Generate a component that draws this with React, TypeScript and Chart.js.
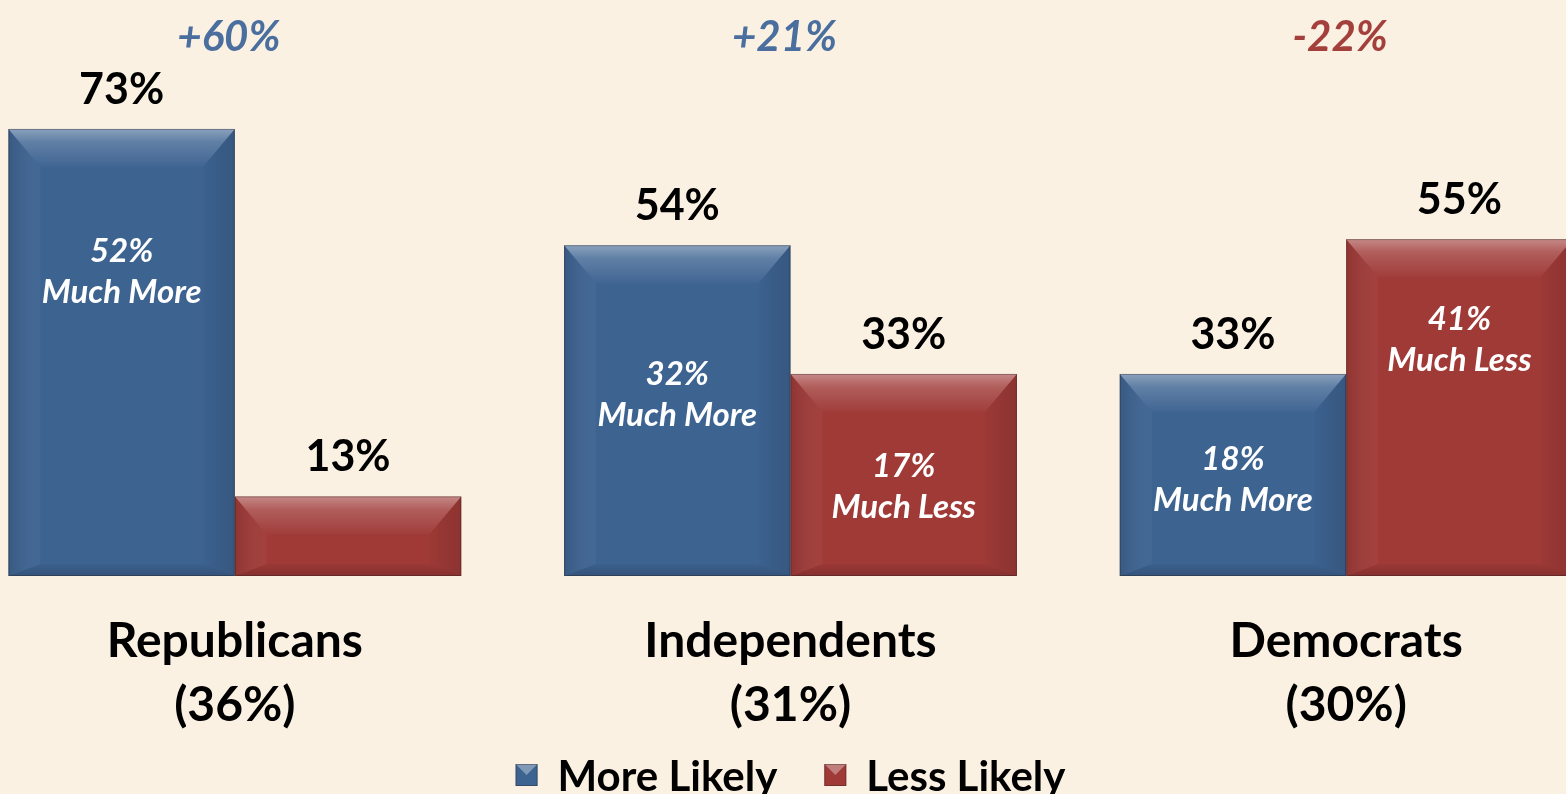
import React, { useEffect, useRef } from "react";
import { Chart, registerables } from "chart.js";

Chart.register(...registerables);

const categories = ["Republicans", "Independents", "Democrats"];
const categoryShares = ["(36%)", "(31%)", "(30%)"];
const seriesNames = ["More Likely", "Less Likely"];
const moreLikely = [73, 54, 33];
const lessLikely = [13, 33, 55];
const muchMore: (number | null)[] = [52, 32, 18];
const muchLess: (number | null)[] = [null, 17, 41];
const innerWords = ["Much More", "Much Less"];

const BG = "#FBF1E3";
const BLUE = "#3D6391";
const RED = "#9F3A37";
const NET_BLUE = "#4A6E9E";
const NET_RED = "#A3403C";
const FONT = "Lato, 'Open Sans', sans-serif";

function drawBevel(ctx: CanvasRenderingContext2D, x0: number, y0: number, x1: number, y1: number) {
  const h = y1 - y0;
  const w = x1 - x0;
  const b = Math.min(38, h / 2);
  const s = Math.min(32, w / 2);
  const bb = Math.min(12, h / 4);
  ctx.save();
  let g = ctx.createLinearGradient(0, y0, 0, y0 + b);
  g.addColorStop(0, "rgba(255,255,255,0.40)");
  g.addColorStop(0.35, "rgba(255,255,255,0.18)");
  g.addColorStop(1, "rgba(255,255,255,0.02)");
  ctx.fillStyle = g;
  ctx.beginPath();
  ctx.moveTo(x0, y0);
  ctx.lineTo(x1, y0);
  ctx.lineTo(x1 - s, y0 + b);
  ctx.lineTo(x0 + s, y0 + b);
  ctx.closePath();
  ctx.fill();
  g = ctx.createLinearGradient(x0, 0, x0 + s, 0);
  g.addColorStop(0, "rgba(0,0,0,0.10)");
  g.addColorStop(1, "rgba(255,255,255,0.03)");
  ctx.fillStyle = g;
  ctx.beginPath();
  ctx.moveTo(x0, y0);
  ctx.lineTo(x0 + s, y0 + b);
  ctx.lineTo(x0 + s, y1 - bb);
  ctx.lineTo(x0, y1);
  ctx.closePath();
  ctx.fill();
  g = ctx.createLinearGradient(x1 - s, 0, x1, 0);
  g.addColorStop(0, "rgba(0,0,0,0.02)");
  g.addColorStop(1, "rgba(0,0,0,0.12)");
  ctx.fillStyle = g;
  ctx.beginPath();
  ctx.moveTo(x1, y0);
  ctx.lineTo(x1, y1);
  ctx.lineTo(x1 - s, y1 - bb);
  ctx.lineTo(x1 - s, y0 + b);
  ctx.closePath();
  ctx.fill();
  g = ctx.createLinearGradient(0, y1 - bb, 0, y1);
  g.addColorStop(0, "rgba(0,0,0,0.03)");
  g.addColorStop(1, "rgba(0,0,0,0.16)");
  ctx.fillStyle = g;
  ctx.beginPath();
  ctx.moveTo(x0, y1);
  ctx.lineTo(x1, y1);
  ctx.lineTo(x1 - s, y1 - bb);
  ctx.lineTo(x0 + s, y1 - bb);
  ctx.closePath();
  ctx.fill();
  ctx.strokeStyle = "rgba(40,30,30,0.35)";
  ctx.lineWidth = 1;
  ctx.strokeRect(x0 + 0.5, y0 + 0.5, w - 1, h - 1);
  ctx.restore();
}

const bevelPlugin = {
  id: "bevel",
  afterDatasetsDraw(chart: any) {
    const ctx = chart.ctx as CanvasRenderingContext2D;
    chart.data.datasets.forEach((_ds: any, di: number) => {
      const meta = chart.getDatasetMeta(di);
      meta.data.forEach((el: any) => {
        drawBevel(ctx, el.x - el.width / 2, el.y, el.x + el.width / 2, el.base);
      });
    });
  },
};

function drawBevelSmall(ctx: CanvasRenderingContext2D, x: number, y: number, s: number) {
  ctx.save();
  ctx.fillStyle = "rgba(255,255,255,0.35)";
  ctx.beginPath();
  ctx.moveTo(x, y);
  ctx.lineTo(x + s, y);
  ctx.lineTo(x + s / 2, y + s / 2);
  ctx.closePath();
  ctx.fill();
  ctx.strokeStyle = "rgba(40,30,30,0.35)";
  ctx.strokeRect(x + 0.5, y + 0.5, s - 1, s - 1);
  ctx.restore();
}

const labelPlugin = {
  id: "labels",
  afterDraw(chart: any) {
    const ctx = chart.ctx as CanvasRenderingContext2D;
    const xs = chart.scales.x;
    const ys = chart.scales.y;
    ctx.save();
    ctx.textAlign = "center";
    ctx.textBaseline = "middle";
    const much = [muchMore, muchLess];
    chart.data.datasets.forEach((ds: any, di: number) => {
      const meta = chart.getDatasetMeta(di);
      meta.data.forEach((el: any, i: number) => {
        ctx.fillStyle = "#000";
        ctx.font = `bold 43px ${FONT}`;
        ctx.fillText(`${ds.data[i]}%`, el.x, el.y - 39);
        const m = much[di][i];
        if (m != null) {
          const c = ys.getPixelForValue(m) + 14;
          ctx.fillStyle = "#FFFFFF";
          ctx.font = `italic bold 33px ${FONT}`;
          ctx.fillText(`${m}%`, el.x, c - 20);
          ctx.fillText(innerWords[di], el.x, c + 21);
        }
      });
    });
    categories.forEach((cat, i) => {
      const cx = xs.getPixelForValue(i);
      const net = moreLikely[i] - lessLikely[i];
      ctx.font = `italic bold 42px ${FONT}`;
      ctx.fillStyle = net >= 0 ? NET_BLUE : NET_RED;
      ctx.fillText(`${net >= 0 ? "+" : ""}${net}%`, cx - 6, 37);
      ctx.fillStyle = "#000";
      ctx.font = `bold 48px ${FONT}`;
      ctx.fillText(cat, cx, 642);
      ctx.fillText(categoryShares[i], cx, 706);
    });
    ctx.font = `bold 42px ${FONT}`;
    ctx.textAlign = "left";
    const box = 22;
    const gap = 20;
    const between = 47;
    const widths = seriesNames.map((n) => box + gap + ctx.measureText(n).width);
    const total = widths[0] + between + widths[1];
    const mid = (xs.getPixelForValue(0) + xs.getPixelForValue(2)) / 2;
    let lx = mid - total / 2;
    const ly = 775;
    seriesNames.forEach((name, di) => {
      ctx.fillStyle = chart.data.datasets[di].backgroundColor;
      ctx.fillRect(lx, ly - box / 2, box, box);
      drawBevelSmall(ctx, lx, ly - box / 2, box);
      ctx.fillStyle = "#000";
      ctx.fillText(name, lx + box + gap, ly + 2);
      lx += widths[di] + between;
    });
    ctx.restore();
  },
};

export default function App() {
  const ref = useRef<HTMLCanvasElement | null>(null);
  useEffect(() => {
    if (!ref.current) return;
    const chart = new Chart(ref.current, {
      type: "bar",
      data: {
        labels: categories,
        datasets: [
          { label: seriesNames[0], data: moreLikely, backgroundColor: BLUE, borderWidth: 0 },
          { label: seriesNames[1], data: lessLikely, backgroundColor: RED, borderWidth: 0 },
        ],
      },
      options: {
        animation: false,
        responsive: false,
        events: [],
        layout: { padding: { top: 86, bottom: 218, left: 0, right: 0 } },
        datasets: { bar: { categoryPercentage: 0.815, barPercentage: 1.0 } },
        scales: {
          x: { display: false },
          y: { display: false, min: 0, max: 80 },
        },
        plugins: { legend: { display: false }, tooltip: { enabled: false } },
      },
      plugins: [bevelPlugin, labelPlugin],
    });
    return () => chart.destroy();
  }, []);
  return (
    <div style={{ position: "fixed", left: 0, top: 0, width: 1566, height: 794, background: BG, overflow: "hidden" }}>
      <canvas ref={ref} width={1667} height={794} style={{ position: "absolute", left: -43, top: 0 }} />
    </div>
  );
}
